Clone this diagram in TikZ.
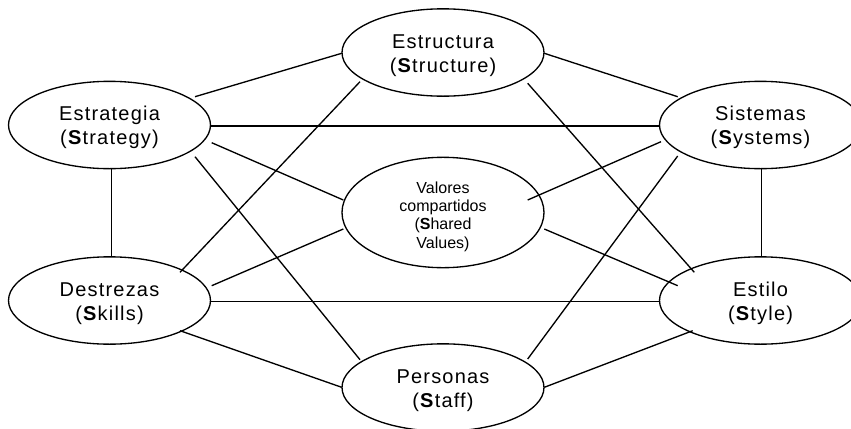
\documentclass[tikz,border=0pt]{standalone}
\usepackage{fontspec}
\setmainfont{Liberation Sans}
\newfontfamily\mainf[LetterSpace=6]{Liberation Sans}
\newfontfamily\smallf{Liberation Sans}
\usetikzlibrary{shapes.geometric,calc}
\tikzset{
  oval/.style={draw, line width=1pt, ellipse, minimum width=151.5pt,
    minimum height=65.5pt, inner sep=0pt, align=center,
    font=\mainf\fontsize{15}{18}\selectfont},
  smalloval/.style={oval, font=\smallf\fontsize{12}{13.75}\selectfont},
  link/.style={line width=1pt}
}
\begin{document}
\begin{tikzpicture}[x=0.75pt,y=-0.75pt]
\useasboundingbox (0,0) rectangle (851,429);
\node[oval] (S1) at (443,52.5) {\rule{0pt}{14.5pt}Estructura\\(\textbf{S}tructure)};
\node[oval] (E) at (109.5,125) {\rule{0pt}{14.5pt}Estrategia\\(\textbf{S}trategy)};
\node[oval] (Y) at (760.5,125) {\rule{0pt}{14.5pt}Sistemas\\(\textbf{S}ystems)};
\node[smalloval] (V) at (443,212.5) {\rule{0pt}{14.8pt}Valores\\compartidos\\(\textbf{S}hared\\Values)};
\node[oval] (D) at (109.5,300.5) {\rule{0pt}{14.5pt}Destrezas\\(\textbf{S}kills)};
\node[oval] (T) at (760.5,300.5) {\rule{0pt}{14.5pt}Estilo\\(\textbf{S}tyle)};
\node[oval] (P) at (443,387.5) {\rule{0pt}{14.5pt}Personas\\(\textbf{S}taff)};
% outer ring
\draw[link] ($(E)+(85.5,-28.3)$) -- ($(S1)+(-101.3,0.8)$);
\draw[link] ($(S1)+(101.3,0.8)$) -- ($(Y)+(-82.8,-28.3)$);
\draw[link] ($(E)+(101.5,1)$) -- ($(Y)+(-101.2,1)$);
\draw[link] ($(E)+(2.2,43)$) -- ($(D)+(2.2,-43.5)$);
\draw[link] ($(Y)+(1.2,43)$) -- ($(T)+(1.2,-43.5)$);
\draw[link] ($(D)+(101.5,0.8)$) -- ($(T)+(-101.2,0.8)$);
\draw[link] ($(D)+(70.5,30.2)$) -- ($(P)+(-101.3,-0.2)$);
\draw[link] ($(P)+(101.3,-0.2)$) -- ($(T)+(-67.8,30.2)$);
% to shared values
\draw[link] ($(E)+(102.2,17.7)$) -- ($(V)+(-99.7,-12.5)$);
\draw[link] ($(V)+(84.7,-12.5)$) -- ($(Y)+(-99.5,16.7)$);
\draw[link] ($(D)+(102.2,-14.8)$) -- ($(V)+(-99.7,16.5)$);
\draw[link] ($(V)+(101.3,16.5)$) -- ($(T)+(-82.8,-14.8)$);
% diagonals
\draw[link] ($(E)+(85.5,31.7)$) -- ($(P)+(-83,-27.8)$);
\draw[link] ($(S1)+(-83,29.2)$) -- ($(D)+(70.5,-28.2)$);
\draw[link] ($(S1)+(84.7,30.8)$) -- ($(T)+(-66.2,-28.2)$);
\draw[link] ($(Y)+(-82.8,31)$) -- ($(P)+(84.7,-28.5)$);
\end{tikzpicture}
\end{document}
